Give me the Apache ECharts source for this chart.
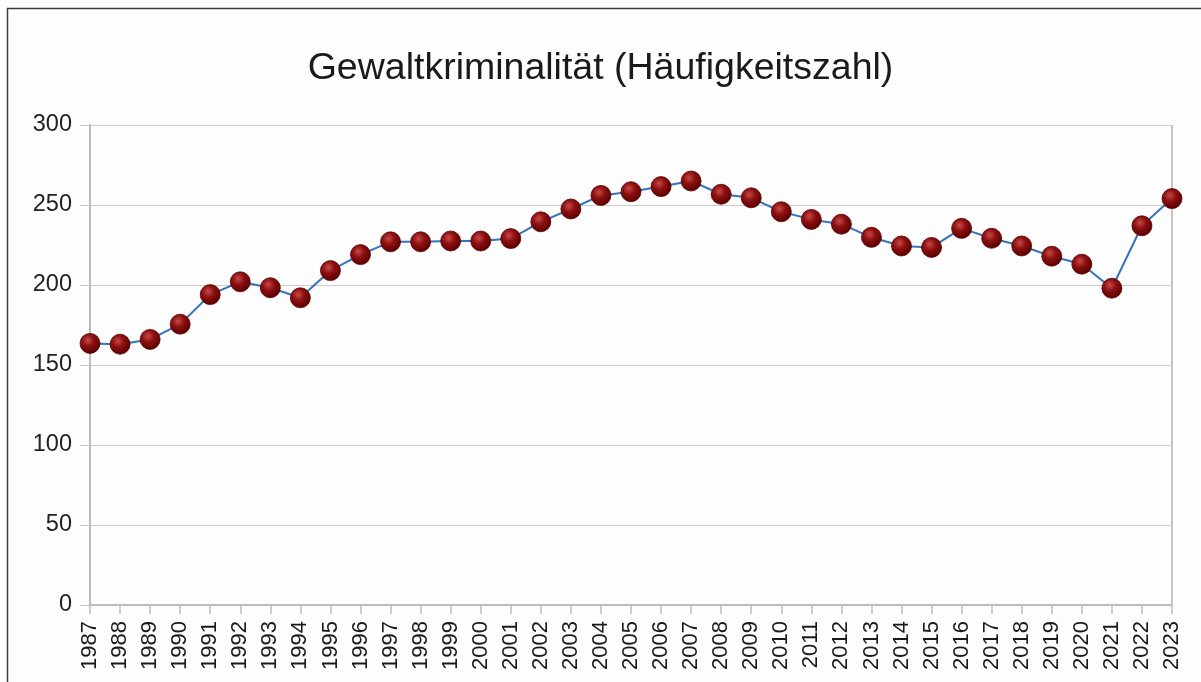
<!DOCTYPE html>
<html>
<head>
<meta charset="utf-8">
<script src="https://cdn.jsdelivr.net/npm/echarts@6/dist/echarts.min.js"></script>
<style>
  html, body { margin: 0; padding: 0; background: #fff; }
  #chart { width: 1201px; height: 682px; }
</style>
</head>
<body>
<div id="chart"></div>
<script type="application/javascript">
const years = ['1987', '1988', '1989', '1990', '1991', '1992', '1993', '1994', '1995', '1996',
  '1997', '1998', '1999', '2000', '2001', '2002', '2003', '2004', '2005', '2006',
  '2007', '2008', '2009', '2010', '2011', '2012', '2013', '2014', '2015', '2016',
  '2017', '2018', '2019', '2020', '2021', '2022', '2023'];
const haeufigkeitszahl = [163.5, 163, 166, 175.5, 194, 202, 198.3, 192, 209, 219,
  227, 227, 227.5, 227.5, 229, 239.5, 247.5, 256, 258.3, 261.5,
  265, 256.7, 254.5, 245.8, 241, 238, 229.8, 224.4, 223.5, 235.4,
  229.2, 224.4, 218, 213, 198, 237, 254];
const yTicks = [0, 50, 100, 150, 200, 250, 300];

const chart = echarts.init(document.getElementById('chart'));
const font = "'Liberation Sans', Arial, sans-serif";

// dunkelrote Kugeln wie im Original
const ball = new echarts.graphic.RadialGradient(0.4, 0.35, 0.65, [
  { offset: 0, color: '#c84848' },
  { offset: 0.45, color: '#8c1010' },
  { offset: 1, color: '#5a0000' }
]);

const option = {
  backgroundColor: '#fdfdfd',
  animation: false,
  title: {
    text: 'Gewaltkriminalität (Häufigkeitszahl)',
    left: 'center',
    top: 45,
    textStyle: {
      fontFamily: font,
      fontSize: 37.5,
      fontWeight: 'normal',
      color: '#1a1a1a'
    }
  },
  grid: {
    left: 90,
    right: 29,
    top: 125,
    bottom: 77,
    containLabel: false
  },
  graphic: [{
    type: 'rect',
    shape: { x: 7.5, y: 8.5, width: 1300, height: 800 },
    style: { fill: 'none', stroke: '#3a3a3a', lineWidth: 1.5 },
    silent: true
  }, {
    type: 'line',
    shape: { x1: 1172, y1: 125, x2: 1172, y2: 605 },
    style: { stroke: '#c4c4c4', lineWidth: 2 },
    silent: true
  }],
  xAxis: {
    type: 'category',
    data: years,
    boundaryGap: false,
    axisLine: { lineStyle: { color: '#bcbcbc', width: 2 } },
    axisTick: { show: true, length: 9, alignWithLabel: true, lineStyle: { color: '#bcbcbc', width: 1.5 } },
    axisLabel: {
      rotate: 90,
      interval: 0,
      margin: 16,
      fontFamily: font,
      fontSize: 22,
      color: '#1a1a1a'
    },
    splitLine: { show: false }
  },
  yAxis: {
    type: 'value',
    min: yTicks[0],
    max: yTicks[yTicks.length - 1],
    interval: 50,
    axisLine: { show: true, lineStyle: { color: '#bcbcbc', width: 2 } },
    axisTick: { show: true, length: 10, lineStyle: { color: '#c4c4c4' } },
    axisLabel: {
      margin: 18,
      fontFamily: font,
      fontSize: 23.5,
      color: '#222'
    },
    splitLine: { lineStyle: { color: '#cccccc', width: 1 } }
  },
  series: [{
    name: 'Häufigkeitszahl',
    type: 'line',
    data: haeufigkeitszahl,
    symbol: 'circle',
    symbolSize: 20,
    lineStyle: { color: '#3574b8', width: 2 },
    itemStyle: { color: ball, borderColor: '#5a0000', borderWidth: 0.8 },
    z: 3
  }]
};

chart.setOption(option);
</script>
</body>
</html>
